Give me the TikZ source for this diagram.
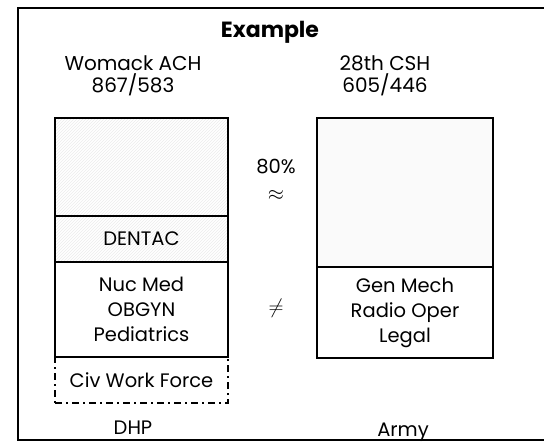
\documentclass[tikz,border=0pt]{standalone}
\usepackage{fontspec}
\setmainfont{Poppins}
\usetikzlibrary{positioning,patterns}

\begin{document}
\begin{tikzpicture}[
  x=1pt, y=-1pt,
  every node/.style={font=\fontsize{19.5}{25}\selectfont, inner sep=0pt, outer sep=0pt},
  box/.style={draw, line width=2.4pt, align=center},
  shade/.style={pattern=north east lines, pattern color=black!8},
  lbl/.style={align=center, font=\fontsize{20}{22}\selectfont}
]
\useasboundingbox (0,0) rectangle (544,445);
% outer frame
\draw[line width=2pt] (544,8) -- (18,8) -- (18,440) -- (544,440);

\node[font=\bfseries\fontsize{22}{24}\selectfont] (title) at (270,32) {Example};
\node[lbl] (womack) at (133,76) {Womack ACH\\867/583};
\node[lbl] (csh) at (385,76) {28th CSH\\605/446};

% Womack column
\node[box, shade, anchor=north west, minimum width=173, minimum height=98] (wtop) at (55,118) {};
\node[box, shade, minimum width=173, minimum height=46, below=0pt of wtop] (dentac) {DENTAC};
\node[box, minimum width=173, minimum height=95, below=0pt of dentac] (wmed) {Nuc Med\\OBGYN\\Pediatrics};
\node[box, line width=1.8pt, dash pattern=on 7pt off 4pt on 2pt off 4pt, minimum width=173, minimum height=46, below=0pt of wmed] (civ) {Civ Work Force};

% CSH column
\node[box, fill=black!2, anchor=north west, minimum width=176, minimum height=149] (ctop) at (317,118) {};
\node[box, minimum width=176, minimum height=91, below=0pt of ctop] (cmech) {Gen Mech\\Radio Oper\\Legal};

% comparisons
\node (pct) at (276,167) {80\%};
\node (approx) at (276,195) {$\approx$};
\node (neq) at (276,308) {$\neq$};

\node (dhp) at (133,428) {DHP};
\node (army) at (403,432) {Army};
\end{tikzpicture}
\end{document}
